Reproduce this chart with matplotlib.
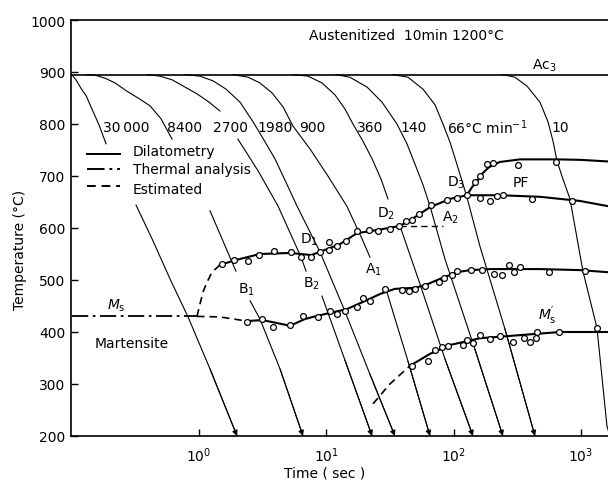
import numpy as np
import matplotlib
matplotlib.use('Agg')
import matplotlib.pyplot as plt
from matplotlib import font_manager as fm

nan = np.nan

# ---------------- data ----------------
ac3 = 895
ms = 430
rate_labels = ['30\u2009000', '8400', '2700', '1980', '900', '360', '140',
               '66°C min$^{-1}$', '10']

c1_t = [0.1, 0.108, 0.118, 0.130, 0.144, 0.164, 0.186, nan, 0.320, 0.428, 0.592, 0.820, 1.22, 1.99]
c1_T = [895, 885, 869, 854, 829, 798, 762, nan, 644, 579, 502, 429, 329, 200]
c2_t = [0.132, 0.152, 0.183, 0.219, 0.272, 0.332, 0.412, 0.503, 0.614, nan,
        1.22, 1.95, nan, 2.52, 3.01, 4.33, 6.56]
c2_T = [895, 894, 888, 879, 863, 850, 835, 810, 771, nan,
        633, 517, nan, 460, 425, 329, 200]
c3_t = [0.391, 0.494, 0.614, 0.776, 0.964, 1.20, 1.46, nan,
        2.02, 2.91, 4.18, 6.33, 6.93, nan, 9.25, 14.0, 22.9]
c3_T = [895, 892, 885, 871, 858, 842, 825, nan,
        771, 710, 642, 544, 517, nan, 469, 346, 200]
c4_t = [0.776, 1.018, 1.288, 1.63, 2.10, 2.66, 3.24, 3.95, 4.82, 5.89, 8.92, 14.0, 22.0, 34.6]
c4_T = [895, 892, 883, 867, 842, 804, 769, 733, 688, 642, 554, 440, 319, 200]
c5_t = [1.85, 2.43, 3.01, 3.74, 4.57, 5.47, 7.45, 10.3, 14.5, 19.1, 22.0, nan, 29.4, 43.8, 65.3]
c5_T = [895, 890, 879, 860, 833, 796, 752, 700, 642, 579, 544, nan, 483, 344, 200]
c6_t = [5.47, 7.18, 9.25, 11.7, 14.0, 16.2, 19.4, 22.9, 26.9, 30.5, nan, 37.9, 54.5, 85.6, 142]
c6_T = [895, 892, 879, 856, 829, 800, 767, 733, 694, 656, nan, 604, 492, 348, 200]
c7_t = [11.9, 15.3, 20.9, 27.4, 35.9, 43.0, 49.7, 57.5, 65.3, 85.6, 147, 244]
c7_T = [895, 890, 871, 842, 800, 762, 723, 683, 642, 540, 367, 200]
c8_t = [33.4, 43.8, 57.5, 71.4, 82.5, 93.7, 103, 114, 127, 161, 253, 436]
c8_T = [895, 890, 867, 837, 800, 765, 733, 698, 660, 565, 406, 200]
c9_t = [244, 303, 377, 477, 552, 604, 649, 723, 821, 1038, 1337, 1603, 1690]
c9_T = [895, 890, 873, 842, 804, 767, 729, 694, 656, 517, 408, 219, 200]

ms_t = [0.1, 0.964]
ms_T = [430, 430]
bs_est_t = [0.964, 1.018, 1.075, 1.156, 1.265, 1.46]
bs_est_T = [430, 454, 477, 496, 515, 529]
bs_t = [1.46, 1.92, 3.0, 5.2, 7.6, 8.9, 12.8, 17.4, 26.4, 37.9, 49.7, 65.3, 93.7, 127, 231, 477, 984, 1633]
bs_T = [529, 538, 550, 552, 548, 554, 569, 590, 597, 604, 621, 640, 656, 663, 663, 660, 652, 642]
pf_t = [127, 140, 155, 170, 190, 231, 333, 649, 1000, 1633]
pf_T = [663, 679, 692, 706, 717, 727, 732, 732, 731, 728]
d2a2_t = [37.9, 82.5]
d2a2_T = [604, 604]
bl_est_t = [0.964, 1.46, 2.10, 2.38]
bl_est_T = [430, 429, 423, 421]
bl_t = [2.38, 3.13, 3.95, 5.19, 6.8, 8.45, 14.5, 20.3, 26.4, 34.6, 49.7, 59.6, 78, 106, 135, 193, 477, 984, 1633]
bl_T = [421, 423, 418, 412, 425, 431, 444, 460, 473, 483, 485, 490, 502, 515, 519, 521, 521, 519, 515]
msp_est_t = [23.3, 31.6, 45.4]
msp_est_T = [262, 300, 335]
msp_t = [45.4, 65.3, 93.7, 161, 333, 685, 1633]
msp_T = [335, 358, 375, 388, 394, 400, 400]

up_pts_t = [1.52, 1.88, 2.43, 2.96, 3.88, 5.28, 6.33, 7.58, 8.92, 10.5, 10.5, 12.1, 14.3, 17.4, 21.6,
            25.5, 31.6, 37.2, 42.3, 47.1, 53.5, 66.4, 88.7, 106, 127, 161, 193, 219, 244, 413, 851]
up_pts_T = [531, 538, 537, 548, 556, 554, 544, 544, 554, 573, 558, 565, 575, 594, 596,
            594, 598, 604, 613, 615, 627, 644, 654, 658, 663, 658, 652, 662, 663, 656, 652]
pf_pts_t = [147, 161, 183, 204, 321, 637]
pf_pts_T = [688, 700, 723, 725, 721, 727]
lo_pts_t = [2.38, 3.13, 3.81, 5.19, 6.56, 8.61, 10.7, 12.1, 14.0, 17.4, 19.4, 22.0, 28.9, 39.3, 44.6,
            49.7, 59.6, 76.8, 84.1, 97.1, 106, 137, 167, 208, 240, 272, 298, 333, 561, 1077]
lo_pts_T = [419, 425, 410, 413, 431, 429, 440, 435, 440, 448, 465, 460, 483, 481, 479,
            483, 488, 496, 504, 510, 517, 519, 519, 512, 510, 529, 515, 525, 515, 517]
msp_pts_t = [47.1, 62.9, 71.4, 81.1, 90.4, 119, 127, 142, 161, 193, 231, 293, 357, 398, 444, 452, 673, 1337]
msp_pts_T = [335, 344, 365, 371, 373, 375, 385, 379, 394, 387, 392, 381, 388, 381, 388, 400, 400, 408]

# ---------------- fonts ----------------
names = {f.name for f in fm.fontManager.ttflist}
if 'Liberation Sans Narrow' in names:
    FONT, FS = 'Liberation Sans Narrow', 12.5
else:
    FONT, FS = 'DejaVu Sans', 10
plt.rcParams['font.family'] = [FONT, 'DejaVu Sans']
plt.rcParams['mathtext.fontset'] = 'custom'
plt.rcParams['mathtext.rm'] = FONT
plt.rcParams['mathtext.it'] = FONT + ':italic'
plt.rcParams['mathtext.bf'] = FONT + ':bold'

W, H = 608, 485
fig = plt.figure(figsize=(W / 100, H / 100), dpi=100)
L, R, TOP, BOT = 71, 608, 21, 437
ax = fig.add_axes([L / W, 1 - BOT / H, (R - L) / W, (BOT - TOP) / H])
ax.set_xscale('log')
ax.set_xlim(0.0987, 1633)
ax.set_ylim(200, 1000)
ax.spines['right'].set_visible(False)
for s in ['left', 'bottom', 'top']:
    ax.spines[s].set_linewidth(1.2)

ax.set_yticks(np.arange(200, 1001, 100))
ax.set_xticks([1, 10, 100, 1000])
ax.set_xticklabels(['$10^{0}$', '$10^{1}$', '$10^{2}$', '$10^{3}$'])
ax.minorticks_off()
ax.tick_params(direction='in', length=5, width=1, labelsize=FS, pad=4)
ax.tick_params(axis='x', pad=7)


def P(x, y):
    return ((x - L) / (R - L), (BOT - y) / (BOT - TOP))


# Ac3 line
ax.axhline(ac3, color='k', lw=1.2)

# cooling curves
curves = [(c1_t, c1_T), (c2_t, c2_T), (c3_t, c3_T), (c4_t, c4_T), (c5_t, c5_T),
          (c6_t, c6_T), (c7_t, c7_T), (c8_t, c8_T), (c9_t, c9_T)]
for ct, cT in curves:
    ax.plot(ct, cT, color='k', lw=0.8)
    if ct[-1] <= 1633:
        ax.annotate('', xy=(ct[-1], cT[-1]), xytext=(ct[-2], cT[-2]),
                    arrowprops=dict(arrowstyle='-|>', lw=0.8, color='k',
                                    mutation_scale=8, shrinkA=0, shrinkB=0))

# transformation curves
dashdot = (0, (9, 2.5, 1.5, 2.5))
dashed = (0, (4.5, 3))
ax.plot(ms_t, ms_T, color='k', lw=1.3, ls=dashdot)
ax.plot(bs_est_t, bs_est_T, color='k', lw=1.2, ls=dashed)
ax.plot(bs_t, bs_T, color='k', lw=1.5)
ax.plot(pf_t, pf_T, color='k', lw=1.5)
ax.plot(d2a2_t, d2a2_T, color='k', lw=1.0, ls=dashed)
ax.plot(bl_est_t, bl_est_T, color='k', lw=1.2, ls=dashed)
ax.plot(bl_t, bl_T, color='k', lw=1.5)
ax.plot(msp_est_t, msp_est_T, color='k', lw=1.2, ls=dashed)
ax.plot(msp_t, msp_T, color='k', lw=1.5)

mk = dict(ls='none', marker='o', ms=4.2, mfc='white', mec='k', mew=0.9, zorder=5)
ax.plot(up_pts_t, up_pts_T, **mk)
ax.plot(pf_pts_t, pf_pts_T, **mk)
ax.plot(lo_pts_t, lo_pts_T, **mk)
ax.plot(msp_pts_t, msp_pts_T, **mk)

# legend (hand drawn)
for yy, ls in [(155, '-'), (170, dashdot), (187, dashed)]:
    a, b = P(87, yy), P(120, yy)
    ax.plot([a[0], b[0]], [a[1], b[1]], transform=ax.transAxes, color='k', lw=1.4, ls=ls)
for yy, txt in [(152, 'Dilatometry'), (170, 'Thermal analysis'), (190, 'Estimated')]:
    ax.text(*P(133, yy), txt, transform=ax.transAxes, ha='left', va='center', fontsize=FS)

# rate labels
for xx, lab in zip([103, 167, 213, 257, 299, 357, 400, 447, 551], rate_labels):
    ax.text(*P(xx, 128), lab, transform=ax.transAxes, ha='left', va='center', fontsize=FS)

ax.text(*P(406, 36), 'Austenitized  10min 1200°C', transform=ax.transAxes,
        ha='center', va='center', fontsize=FS)
ax.text(*P(532, 66), 'Ac$_3$', transform=ax.transAxes, ha='left', va='center', fontsize=FS)

ann = [(238, 290, 'B$_1$'), (303, 284, 'B$_2$'), (300, 240, 'D$_1$'), (377, 214, 'D$_2$'),
       (447, 183, 'D$_3$'), (365, 270, 'A$_1$'), (442, 218, 'A$_2$'), (513, 183, 'PF'),
       (95, 344, 'Martensite')]
for xx, yy, txt in ann:
    ax.text(*P(xx, yy), txt, transform=ax.transAxes, ha='left', va='center', fontsize=FS)
ax.text(*P(107, 306), r'$M_{\mathrm{s}}$', transform=ax.transAxes, ha='left', va='center', fontsize=FS)
ax.text(*P(538, 316), r"$M_{\mathrm{s}}^{\prime}$", transform=ax.transAxes, ha='left', va='center', fontsize=FS)

fig.text(325 / W, 1 - 474 / H, 'Time ( sec )', ha='center', va='center', fontsize=FS)
fig.text(20 / W, 1 - 250 / H, 'Temperature (°C)', ha='center', va='center',
         rotation=90, fontsize=FS)

fig.savefig('out.png', dpi=100)
